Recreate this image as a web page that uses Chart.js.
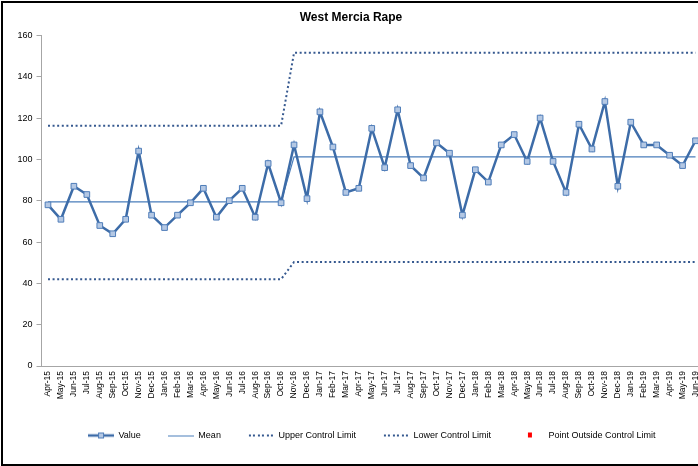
<!DOCTYPE html>
<html>
<head>
<meta charset="utf-8">
<script src="https://cdn.jsdelivr.net/npm/chart.js@4/dist/chart.umd.min.js"></script>
<style>
  html, body { margin: 0; padding: 0; background: #fff; overflow: hidden; }
  #wrap { position: relative; width: 698px; height: 466px; overflow: hidden; }
  #myChart { position: absolute; left: 0; top: 0; }
  #frame { position: absolute; left: 1px; top: 1px; width: 740px; height: 461px; border: 2px solid #000; pointer-events: none; }
</style>
</head>
<body>
<div id="wrap">
  <canvas id="myChart" width="710" height="466"></canvas>
  <div id="frame"></div>
</div>
<script>
// months Apr-15 .. Jun-19
const months = ["Apr-15","May-15","Jun-15","Jul-15","Aug-15","Sep-15","Oct-15","Nov-15","Dec-15",
  "Jan-16","Feb-16","Mar-16","Apr-16","May-16","Jun-16","Jul-16","Aug-16","Sep-16","Oct-16","Nov-16","Dec-16",
  "Jan-17","Feb-17","Mar-17","Apr-17","May-17","Jun-17","Jul-17","Aug-17","Sep-17","Oct-17","Nov-17","Dec-17",
  "Jan-18","Feb-18","Mar-18","Apr-18","May-18","Jun-18","Jul-18","Aug-18","Sep-18","Oct-18","Nov-18","Dec-18",
  "Jan-19","Feb-19","Mar-19","Apr-19","May-19","Jun-19"];

const values = [78,71,87,83,68,64,71,104,73,
  67,73,79,86,72,80,86,72,98,79,107,81,
  123,106,84,86,115,96,124,97,91,108,103,73,
  95,89,107,112,99,120,99,84,117,105,128,87,
  118,107,107,102,97,109];

const meanValues = [79.4,79.4,79.4,79.4,79.4,79.4,79.4,79.4,79.4,
  79.4,79.4,79.4,79.4,79.4,79.4,79.4,79.4,79.4,79.4,101.2,101.2,
  101.2,101.2,101.2,101.2,101.2,101.2,101.2,101.2,101.2,101.2,101.2,101.2,
  101.2,101.2,101.2,101.2,101.2,101.2,101.2,101.2,101.2,101.2,101.2,101.2,
  101.2,101.2,101.2,101.2,101.2,101.2];

const upperLimit = [116.3,116.3,116.3,116.3,116.3,116.3,116.3,116.3,116.3,
  116.3,116.3,116.3,116.3,116.3,116.3,116.3,116.3,116.3,116.3,151.6,151.6,
  151.6,151.6,151.6,151.6,151.6,151.6,151.6,151.6,151.6,151.6,151.6,151.6,
  151.6,151.6,151.6,151.6,151.6,151.6,151.6,151.6,151.6,151.6,151.6,151.6,
  151.6,151.6,151.6,151.6,151.6,151.6];

const lowerLimit = [42,42,42,42,42,42,42,42,42,
  42,42,42,42,42,42,42,42,42,42,50.3,50.3,
  50.3,50.3,50.3,50.3,50.3,50.3,50.3,50.3,50.3,50.3,50.3,50.3,
  50.3,50.3,50.3,50.3,50.3,50.3,50.3,50.3,50.3,50.3,50.3,50.3,
  50.3,50.3,50.3,50.3,50.3,50.3];

// no point falls outside the limits
const outsidePoints = [];

const yTicks = [0, 20, 40, 60, 80, 100, 120, 140, 160];

const lineBlue = "#3D6CA8";
const meanBlue = "#4A7EBB";
const limitBlue = "#35588F";

Chart.defaults.font.family = "'Liberation Sans', Arial, sans-serif";
Chart.defaults.font.size = 9;
Chart.defaults.color = "#404040";

// small legend symbols, drawn like the Excel ones
const makeSymbol = (kind) => {
    const c = document.createElement("canvas");
    c.width = 26;
    c.height = 8;
    const g = c.getContext("2d");
    if (kind === "value") {
        g.strokeStyle = lineBlue; g.lineWidth = 2.5;
        g.beginPath(); g.moveTo(0, 4); g.lineTo(26, 4); g.stroke();
        g.fillStyle = "#B4C8E4"; g.strokeStyle = "#4F7DB9"; g.lineWidth = 1;
        g.fillRect(10, 1, 6, 6); g.strokeRect(10.5, 1.5, 5, 5);
    } else if (kind === "mean") {
        g.strokeStyle = meanBlue; g.lineWidth = 1;
        g.beginPath(); g.moveTo(0, 4.5); g.lineTo(26, 4.5); g.stroke();
    } else if (kind === "limit") {
        g.fillStyle = limitBlue;
        for (let i = 1; i < 26; i += 4.4) g.fillRect(Math.round(i), 3, 2, 2);
    } else {
        g.fillStyle = "#FF0000";
        g.fillRect(10, 1, 4, 5);
    }
    return c;
};

const symbols = [makeSymbol("value"), makeSymbol("mean"), makeSymbol("limit"), makeSymbol("limit"), makeSymbol("outside")];

const myChart = new Chart("myChart", {
    type: "line",
    data: {
        labels: months,
        datasets: [
            {
                label: "Value",
                data: values,
                borderColor: lineBlue,
                borderWidth: 2.5,
                pointStyle: "rect",
                pointRadius: 4,
                pointBackgroundColor: "#B4C8E4",
                pointBorderColor: "#4F7DB9",
                pointBorderWidth: 1,
                tension: 0,
                order: 0
            },
            {
                label: "Mean",
                data: meanValues,
                borderColor: meanBlue,
                borderWidth: 1.2,
                pointRadius: 0,
                order: 1
            },
            {
                label: "Upper Control Limit",
                data: upperLimit,
                borderColor: limitBlue,
                borderWidth: 2,
                borderDash: [2, 2.6],
                pointRadius: 0,
                order: 2
            },
            {
                label: "Lower Control Limit",
                data: lowerLimit,
                borderColor: limitBlue,
                borderWidth: 2,
                borderDash: [2, 2.6],
                pointRadius: 0,
                order: 3
            },
            {
                label: "Point Outside Control Limit",
                data: outsidePoints,
                showLine: false,
                pointStyle: "rect",
                pointRadius: 4,
                backgroundColor: "#FF0000",
                borderColor: "#FF0000",
                order: 4
            }
        ]
    },
    options: {
        responsive: false,
        animation: false,
        layout: { padding: { left: 0, right: 8, top: 0, bottom: 16 } },
        plugins: {
            title: {
                display: true,
                text: "West Mercia Rape",
                color: "#000",
                font: { size: 12, weight: "bold" },
                padding: { top: 10, bottom: 11 }
            },
            legend: {
                display: true,
                position: "bottom",
                fullSize: false,
                labels: {
                    usePointStyle: true,
                    pointStyleWidth: 26,
                    boxHeight: 9,
                    padding: 27,
                    color: "#000",
                    font: { size: 9 },
                    generateLabels: (chart) => chart.data.datasets.map((ds, i) => ({
                        text: ds.label,
                        pointStyle: symbols[i],
                        datasetIndex: i,
                        hidden: false,
                        lineWidth: 0,
                        fontColor: "#000"
                    }))
                }
            },
            tooltip: { enabled: false }
        },
        scales: {
            x: {
                offset: true,
                grid: { drawOnChartArea: false, drawTicks: true, tickLength: 3, tickColor: "transparent" },
                border: { display: true, color: "#A6A6A6", width: 1 },
                ticks: {
                    autoSkip: false,
                    minRotation: 90,
                    maxRotation: 90,
                    padding: 2,
                    color: "#000",
                    font: { size: 8.5 }
                },
                afterFit: (s) => { s.height = 38; }
            },
            y: {
                min: 0,
                max: 160,
                afterBuildTicks: (s) => { s.ticks = yTicks.map(v => ({ value: v })); },
                grid: { drawOnChartArea: false, tickLength: 5, tickColor: "#A6A6A6" },
                border: { display: true, color: "#A6A6A6", width: 1 },
                ticks: { padding: 4, color: "#000", font: { size: 9 } },
                afterFit: (s) => { s.width = 41.5; }
            }
        }
    }
});
</script>
</body>
</html>
